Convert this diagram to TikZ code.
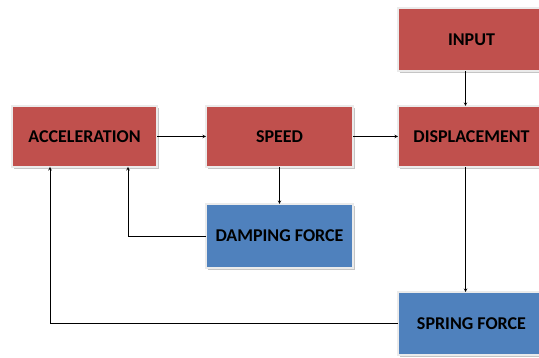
\documentclass[tikz,border=0pt]{standalone}
\usepackage{fontspec}
\setmainfont{Carlito}
\usepackage{tikz}
\usetikzlibrary{arrows, positioning, shadows}
\definecolor{blockred}{HTML}{C0504D}
\definecolor{blockblue}{HTML}{4F81BD}
\tikzstyle{block} = [rectangle, minimum width=145pt, minimum height=61pt, inner sep=0pt, outer sep=0pt, text centered, draw=black!8, line width=2pt, font=\fontsize{18}{20}\selectfont\bfseries, drop shadow={shadow xshift=1.5pt, shadow yshift=-2.5pt, fill=black!45, opacity=0.5}]
\tikzstyle{redblock} = [block, fill=blockred]
\tikzstyle{blueblock} = [block, fill=blockblue]
\tikzstyle{arrow} = [line width=0.6pt,->,>=stealth]

\begin{document}
\begin{tikzpicture}
\fill[white] (0,0) rectangle (539pt,358pt);
\useasboundingbox (0,0) rectangle (539pt,358pt);

% Nodes
\node (acc) [redblock] at (84.5pt,221.5pt) {ACCELERATION};

\node (speed) [redblock, right=49pt of acc, minimum width=147pt] {SPEED};

\node (disp) [redblock, right=45pt of speed, minimum width=147pt] {DISPLACEMENT};

\node (input) [redblock, above=35pt of disp, minimum width=147pt, minimum height=63pt] {INPUT};

\node (damping) [blueblock, below=37pt of speed, minimum width=147pt, minimum height=64pt] {DAMPING FORCE};

\node (spring) [blueblock, below=125pt of disp, minimum width=147pt, minimum height=63pt] {SPRING FORCE};

% Arrows
\draw [arrow] (acc) -- (speed);
\draw [arrow] (speed) -- (disp);
\draw [arrow] ([xshift=-6pt]input.south) -- ([xshift=-6pt]disp.north);
\draw [arrow] (speed) -- (damping);
\draw [arrow] ([xshift=-6pt]disp.south) -- ([xshift=-6pt]spring.north);
\draw [arrow] (damping.west) -| ([xshift=43.5pt]acc.south);
\draw [arrow] (spring.west) -| ([xshift=-34.5pt]acc.south);

\end{tikzpicture}
\end{document}
